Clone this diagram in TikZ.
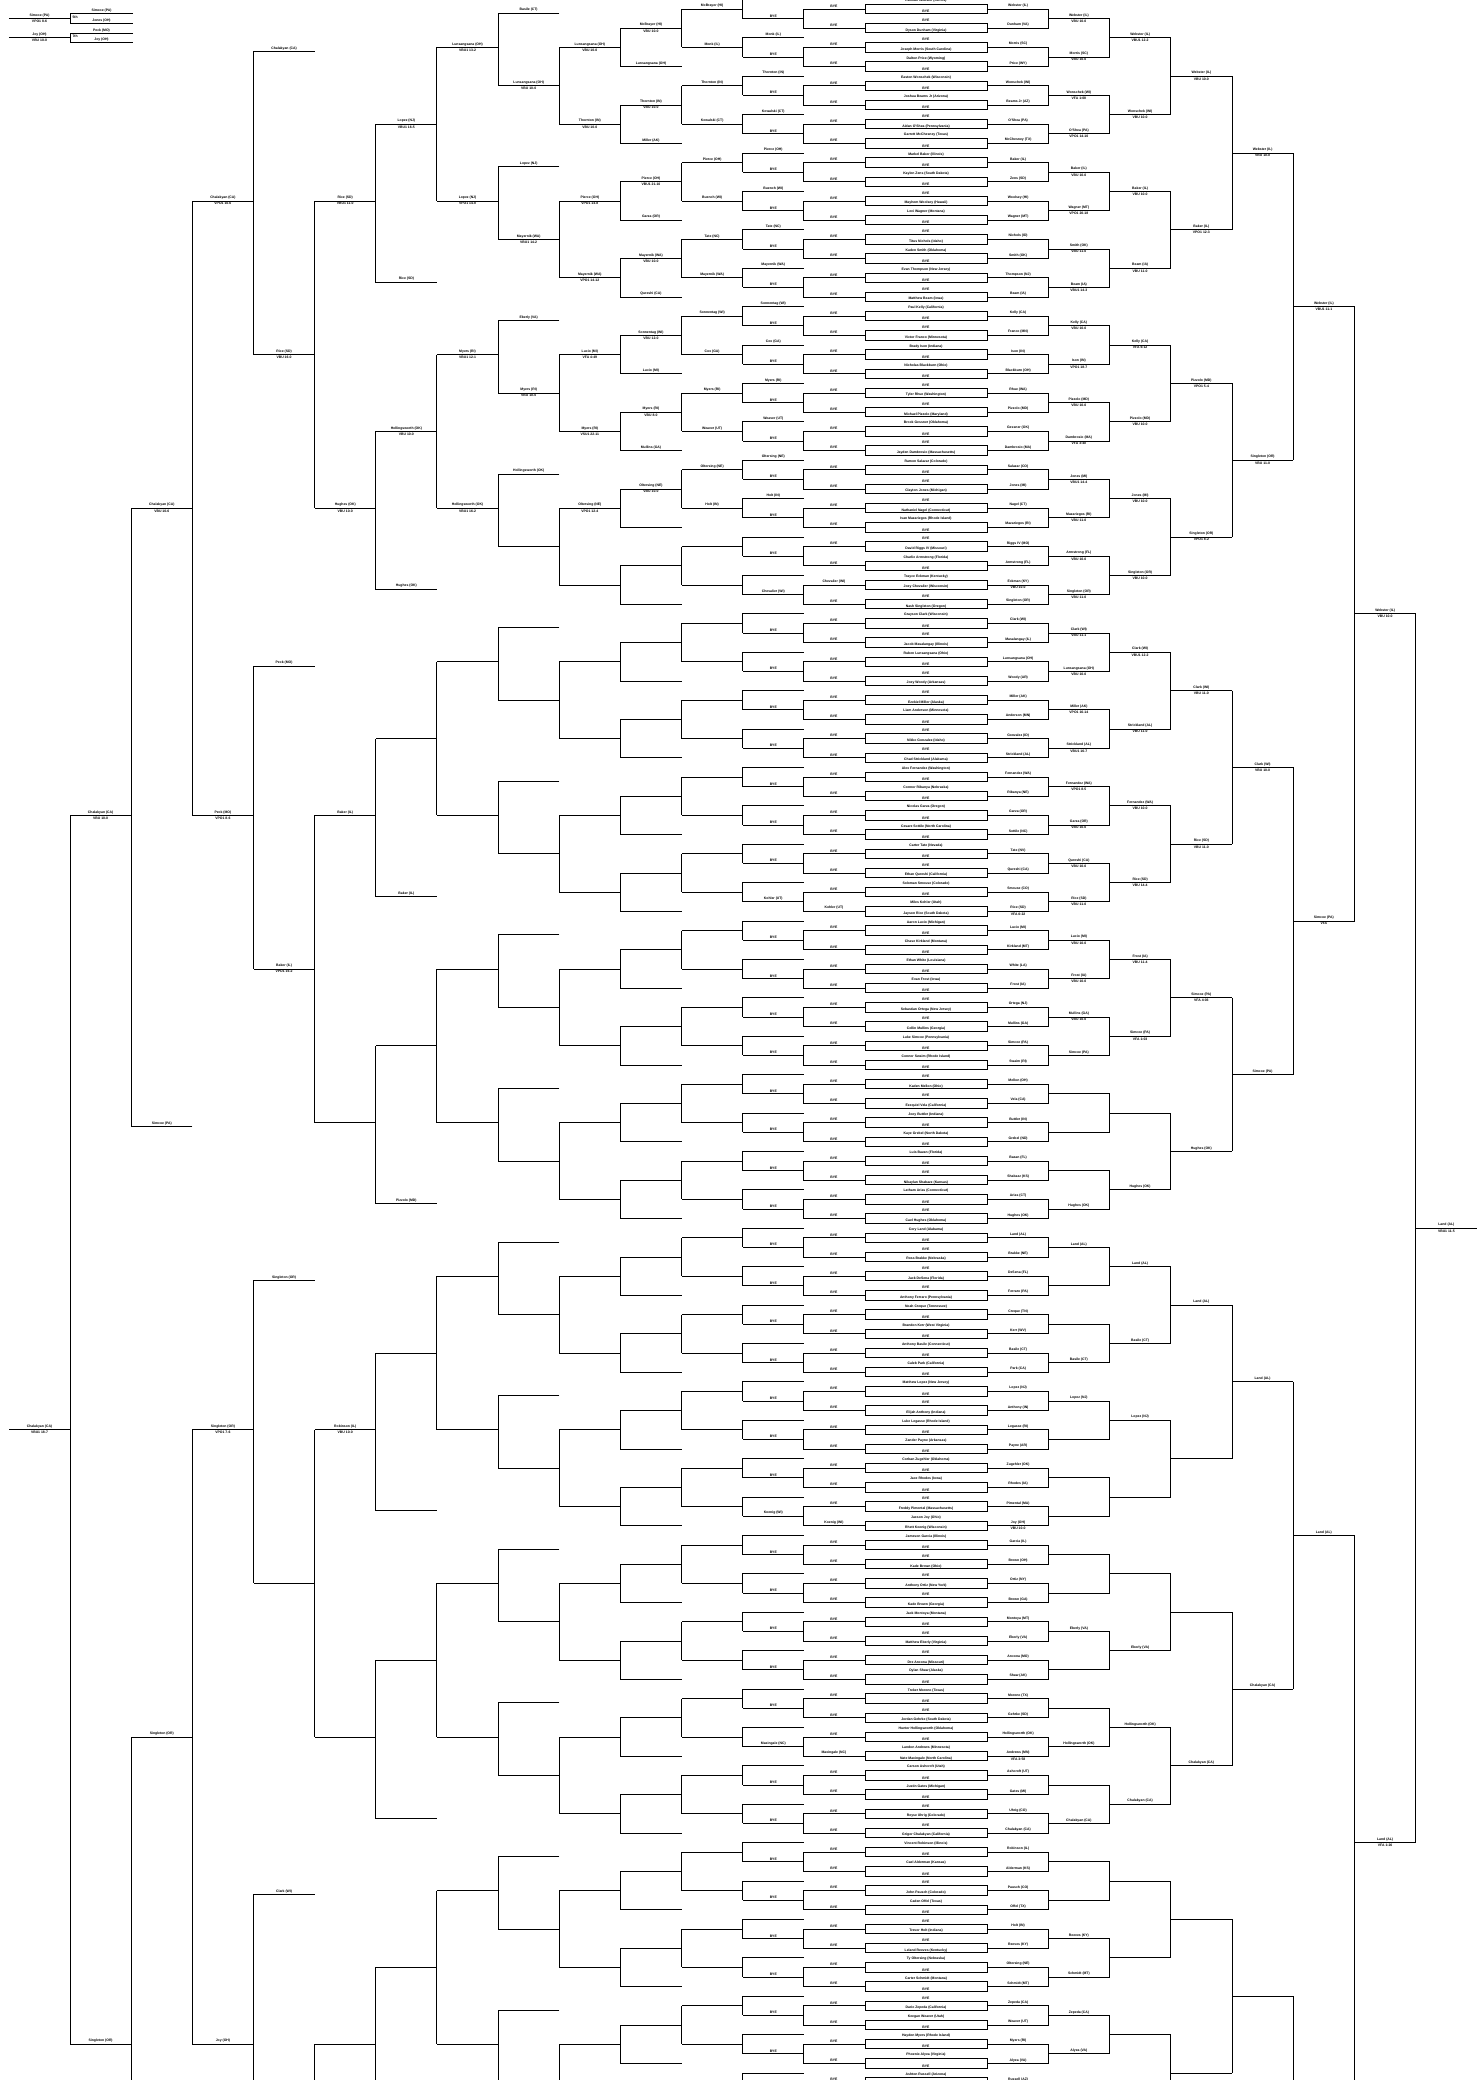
\documentclass[tikz,border=0pt]{standalone}
\usepackage{fontspec}
\setmainfont{Liberation Sans}
\usetikzlibrary{positioning, calc}
% row and column positions (picture pixels)
\newcommand{\rowy}[1]{9+19.2*(#1)}
\newcommand{\stuby}[1]{13.2+19.2*(#1)}
\newcommand{\lcol}[1]{8.9+61.15*(#1)}
\newcommand{\rcol}[1]{987+61.25*(#1)}
\tikzset{
  wire/.style={line width=0.55pt},
  nm/.style={font=\fontsize{1.95}{2.3}\selectfont\bfseries, inner sep=0.7pt},
  matchbox/.style={draw, line width=0.55pt, minimum width=2.44cm,
                   minimum height=0.19cm, inner sep=0pt}
}
\begin{document}
\begin{tikzpicture}[x=0.02cm, y=-0.02cm]
\useasboundingbox (0,0) rectangle (1477,2080);

% First round matches
\foreach \k/\ta/\tb/\lt/\rt in {
 0/Kamran Webster (Illinois)/BYE/BYE/Webster (IL),
 1/BYE/Dyson Dunham (Virginia)/BYE/Dunham (VA),
 2/BYE/Joseph Morris (South Carolina)/BYE/Morris (SC),
 3/Dalton Price (Wyoming)/BYE/BYE/Price (WY),
 4/Easton Wonschek (Wisconsin)/BYE/BYE/Wonschek (WI),
 5/Joshua Beams Jr (Arizona)/BYE/BYE/Beams Jr (AZ),
 6/BYE/Aidan O'Shea (Pennsylvania)/BYE/O'Shea (PA),
 7/Garrett McChesney (Texas)/BYE/BYE/McChesney (TX),
 8/Markel Baker (Illinois)/BYE/BYE/Baker (IL),
 9/Kaylen Zens (South Dakota)/BYE/BYE/Zens (SD),
 10/BYE/Mayhem Woolsey (Hawaii)/BYE/Woolsey (HI),
 11/Levi Wagner (Montana)/BYE/BYE/Wagner (MT),
 12/BYE/Titus Nichols (Idaho)/BYE/Nichols (ID),
 13/Kaden Smith (Oklahoma)/BYE/BYE/Smith (OK),
 14/Evan Thompson (New Jersey)/BYE/BYE/Thompson (NJ),
 15/BYE/Matthew Beam (Iowa)/BYE/Beam (IA),
 16/Paul Kelly (California)/BYE/BYE/Kelly (CA),
 17/BYE/Victor Franco (Minnesota)/BYE/Franco (MN),
 18/Brady Ison (Indiana)/BYE/BYE/Ison (IN),
 19/Nicholas Blackburn (Ohio)/BYE/BYE/Blackburn (OH),
 20/BYE/Tyler Rhue (Washington)/BYE/Rhue (WA),
 21/BYE/Michael Pizzolo (Maryland)/BYE/Pizzolo (MD),
 22/Brock Gessner (Oklahoma)/BYE/BYE/Gessner (OK),
 23/BYE/Jayden Dambrosio (Massachusetts)/BYE/Dambrosio (MA),
 24/Ramon Salazar (Colorado)/BYE/BYE/Salazar (CO),
 25/BYE/Clayton Jones (Michigan)/BYE/Jones (MI),
 26/BYE/Nathaniel Nagel (Connecticut)/BYE/Nagel (CT),
 27/Ivan Mazariegos (Rhode Island)/BYE/BYE/Mazariegos (RI),
 28/BYE/David Riggs IV (Missouri)/BYE/Riggs IV (MO),
 29/Charlie Armstrong (Florida)/BYE/BYE/Armstrong (FL),
 30/Trayce Eckman (Kentucky)/Joey Chevalier (Wisconsin)/Chevalier (WI)/Eckman (KY),
 31/BYE/Nash Singleton (Oregon)/BYE/Singleton (OR),
 32/Grayson Clark (Wisconsin)/BYE/BYE/Clark (WI),
 33/BYE/Jacob Masalangay (Illinois)/BYE/Masalangay (IL),
 34/Ruben Lunsangsana (Ohio)/BYE/BYE/Lunsangsana (OH),
 35/BYE/Joey Woody (Arkansas)/BYE/Woody (AR),
 36/BYE/Ezekiel Miller (Alaska)/BYE/Miller (AK),
 37/Liam Anderson (Minnesota)/BYE/BYE/Anderson (MN),
 38/BYE/Nikko Gonzalez (Idaho)/BYE/Gonzalez (ID),
 39/BYE/Chad Strickland (Alabama)/BYE/Strickland (AL),
 40/Alex Fernandez (Washington)/BYE/BYE/Fernandez (WA),
 41/Connor Ribanya (Nebraska)/BYE/BYE/Ribanya (NE),
 42/Nicolas Garza (Oregon)/BYE/BYE/Garza (OR),
 43/Cesare Sottile (North Carolina)/BYE/BYE/Sottile (NC),
 44/Carter Tate (Nevada)/BYE/BYE/Tate (NV),
 45/BYE/Ethan Qureshi (California)/BYE/Qureshi (CA),
 46/Soloman Smouse (Colorado)/BYE/BYE/Smouse (CO),
 47/Miles Kohler (Utah)/Jayson Rice (South Dakota)/Kohler (UT)/Rice (SD),
 48/Aaron Lucio (Michigan)/BYE/BYE/Lucio (MI),
 49/Chase Kirkland (Montana)/BYE/BYE/Kirkland (MT),
 50/Ethan White (Louisiana)/BYE/BYE/White (LA),
 51/Evan Frost (Iowa)/BYE/BYE/Frost (IA),
 52/BYE/Sebastian Ortega (New Jersey)/BYE/Ortega (NJ),
 53/BYE/Collin Mullins (Georgia)/BYE/Mullins (GA),
 54/Luke Simcoe (Pennsylvania)/BYE/BYE/Simcoe (PA),
 55/Connor Swaim (Rhode Island)/BYE/BYE/Swaim (RI),
 56/BYE/Kaden Mellon (Ohio)/BYE/Mellon (OH),
 57/BYE/Ezequiel Vela (California)/BYE/Vela (CA),
 58/Joey Buttler (Indiana)/BYE/BYE/Buttler (IN),
 59/Kaye Grebel (North Dakota)/BYE/BYE/Grebel (ND),
 60/Luis Bazan (Florida)/BYE/BYE/Bazan (FL),
 61/BYE/Nikaylan Shabazz (Kansas)/BYE/Shabazz (KS),
 62/Latham Arias (Connecticut)/BYE/BYE/Arias (CT),
 63/BYE/Cael Hughes (Oklahoma)/BYE/Hughes (OK),
 64/Cory Land (Alabama)/BYE/BYE/Land (AL),
 65/BYE/Ross Brakke (Nebraska)/BYE/Brakke (NE),
 66/BYE/Jack DeSena (Florida)/BYE/DeSena (FL),
 67/BYE/Anthony Ferraro (Pennsylvania)/BYE/Ferraro (PA),
 68/Noah Creque (Tennessee)/BYE/BYE/Creque (TN),
 69/Brandon Kerr (West Virginia)/BYE/BYE/Kerr (WV),
 70/Anthony Basile (Connecticut)/BYE/BYE/Basile (CT),
 71/Caleb Park (California)/BYE/BYE/Park (CA),
 72/Matthew Lopez (New Jersey)/BYE/BYE/Lopez (NJ),
 73/BYE/Elijah Anthony (Indiana)/BYE/Anthony (IN),
 74/Luke Legasse (Rhode Island)/BYE/BYE/Legasse (RI),
 75/Zander Payne (Arkansas)/BYE/BYE/Payne (AR),
 76/Corban Zugehler (Oklahoma)/BYE/BYE/Zugehler (OK),
 77/Jace Rhodes (Iowa)/BYE/BYE/Rhodes (IA),
 78/BYE/Freddy Pimental (Massachusetts)/BYE/Pimental (MA),
 79/Jaxson Joy (Ohio)/Rhett Koenig (Wisconsin)/Koenig (WI)/Joy (OH),
 80/Jameson Garcia (Illinois)/BYE/BYE/Garcia (IL),
 81/BYE/Kade Brown (Ohio)/BYE/Brown (OH),
 82/BYE/Anthony Ortiz (New York)/BYE/Ortiz (NY),
 83/BYE/Kade Brown (Georgia)/BYE/Brown (GA),
 84/Jack Montoya (Montana)/BYE/BYE/Montoya (MT),
 85/BYE/Matthew Eberly (Virginia)/BYE/Eberly (VA),
 86/BYE/Dre Ancona (Missouri)/BYE/Ancona (MO),
 87/Dylan Shaw (Alaska)/BYE/BYE/Shaw (AK),
 88/Treker Moreno (Texas)/BYE/BYE/Moreno (TX),
 89/BYE/Jordan Gehrke (South Dakota)/BYE/Gehrke (SD),
 90/Hunter Hollingsworth (Oklahoma)/BYE/BYE/Hollingsworth (OK),
 91/Landon Andrews (Minnesota)/Nate Maxingale (North Carolina)/Maxingale (NC)/Andrews (MN),
 92/Carson Ashcroft (Utah)/BYE/BYE/Ashcroft (UT),
 93/Justin Gates (Michigan)/BYE/BYE/Gates (MI),
 94/BYE/Reyse Uhrig (Colorado)/BYE/Uhrig (CO),
 95/BYE/Grigor Chalakyan (California)/BYE/Chalakyan (CA),
 96/Vincent Robinson (Illinois)/BYE/BYE/Robinson (IL),
 97/Cael Alderman (Kansas)/BYE/BYE/Alderman (KS),
 98/BYE/John Pausch (Colorado)/BYE/Pausch (CO),
 99/Caden Offel (Texas)/BYE/BYE/Offel (TX),
 100/BYE/Trevor Holt (Indiana)/BYE/Holt (IN),
 101/BYE/Leland Reeves (Kentucky)/BYE/Reeves (KY),
 102/Ty Oltersing (Nebraska)/BYE/BYE/Oltersing (NE),
 103/Carter Schmidt (Montana)/BYE/BYE/Schmidt (MT),
 104/BYE/Dario Zepeda (California)/BYE/Zepeda (CA),
 105/Keegan Weaver (Utah)/BYE/BYE/Weaver (UT),
 106/Hayden Myers (Rhode Island)/BYE/BYE/Myers (RI),
 107/Phoenix Alyea (Virginia)/BYE/BYE/Alyea (VA),
 108/Ashton Russell (Arizona)//BYE/Russell (AZ)}{
  \node[matchbox] (m\k) at (926,{\rowy{\k}}) {};
  \draw[wire] (m\k.west) -- ++(-61.2,0) node[nm, midway, above] {\lt};
  \draw[wire] (m\k.east) -- ++(61.25,0) node[nm, midway, above] {\rt};
  \node[nm, above] at (m\k.north) {\ta};
  \node[nm, above] at (m\k.south) {\tb};
}
\foreach \k/\s in {30/VBU 10-0, 47/VFA 0:22, 79/VBU 10-0, 91/VFA 3:58}
  \node[nm, below] at ($(m\k.east)+(30.6,0)$) {\s};

% Consolation side (left)
\foreach \j in {0,...,54}{
  \draw[wire] ({\lcol{13}},{\rowy{2*\j}}) -- ({\lcol{13}},{\rowy{2*\j+1}});
  \draw[wire] ({\lcol{13}},{\rowy{2*\j+0.5}}) -- ({\lcol{12}},{\rowy{2*\j+0.5}});
  \draw[wire] ({\lcol{13}},{\rowy{2*\j-0.5}}) -- ({\lcol{12}},{\rowy{2*\j-0.5}})
              -- ({\lcol{12}},{\rowy{2*\j+0.5}});
  \draw[wire] ({\lcol{12}},{\rowy{2*\j}}) -- ({\lcol{11}},{\rowy{2*\j}});
}
\foreach \i in {0,...,27}{
  \draw[wire] ({\lcol{11}},{\rowy{4*\i}}) -- ({\lcol{11}},{\rowy{4*\i+2}});
  \draw[wire] ({\lcol{11}},{\rowy{4*\i+1}}) -- ({\lcol{10}},{\rowy{4*\i+1}});
  \draw[wire] ({\lcol{11}},{\rowy{4*\i+3}}) -- ({\lcol{10}},{\rowy{4*\i+3}})
              -- ({\lcol{10}},{\rowy{4*\i+1}});
  \draw[wire] ({\lcol{10}},{\rowy{4*\i+2}}) -- ({\lcol{9}},{\rowy{4*\i+2}});
}
\foreach \i in {0,...,13}{
  \draw[wire] ({\lcol{9}},{\rowy{8*\i+2}}) -- ({\lcol{9}},{\rowy{8*\i+6}});
  \draw[wire] ({\lcol{9}},{\rowy{8*\i+4}}) -- ({\lcol{8}},{\rowy{8*\i+4}});
  \draw[wire] ({\lcol{9}},{\stuby{8*\i}}) -- ({\lcol{8}},{\stuby{8*\i}})
              -- ({\lcol{8}},{\rowy{8*\i+4}});
  \draw[wire] ({\lcol{8}},{\rowy{8*\i+2}}) -- ({\lcol{7}},{\rowy{8*\i+2}});
}
\foreach \i in {0,...,6}{
  \draw[wire] ({\lcol{7}},{\rowy{16*\i+2}}) -- ({\lcol{7}},{\rowy{16*\i+10}});
  \draw[wire] ({\lcol{7}},{\rowy{16*\i+6}}) -- ({\lcol{6}},{\rowy{16*\i+6}});
  \draw[wire] ({\lcol{7}},{\stuby{16*\i+14}}) -- ({\lcol{6}},{\stuby{16*\i+14}})
              -- ({\lcol{6}},{\rowy{16*\i+6}});
  \draw[wire] ({\lcol{6}},{\rowy{16*\i+10}}) -- ({\lcol{5}},{\rowy{16*\i+10}});
}
\foreach \i in {0,...,3}{
  \draw[wire] ({\lcol{5}},{\rowy{32*\i+10}}) -- ({\lcol{5}},{\rowy{32*\i+26}});
  \draw[wire] ({\lcol{5}},{\rowy{32*\i+18}}) -- ({\lcol{4}},{\rowy{32*\i+18}});
  \draw[wire] ({\lcol{5}},{\stuby{32*\i+2}}) -- ({\lcol{4}},{\stuby{32*\i+2}})
              -- ({\lcol{4}},{\rowy{32*\i+18}});
  \draw[wire] ({\lcol{4}},{\rowy{32*\i+10}}) -- ({\lcol{3}},{\rowy{32*\i+10}});
}
\foreach \i in {0,1}{
  \draw[wire] ({\lcol{3}},{\rowy{64*\i+10}}) -- ({\lcol{3}},{\rowy{64*\i+42}});
  \draw[wire] ({\lcol{3}},{\rowy{64*\i+26}}) -- ({\lcol{2}},{\rowy{64*\i+26}});
  \draw[wire] ({\lcol{3}},{\stuby{64*\i+58}}) -- ({\lcol{2}},{\stuby{64*\i+58}})
              -- ({\lcol{2}},{\rowy{64*\i+26}});
  \draw[wire] ({\lcol{2}},{\rowy{64*\i+42}}) -- ({\lcol{1}},{\rowy{64*\i+42}});
}
\draw[wire] ({\lcol{1}},{\rowy{42}}) -- ({\lcol{1}},{\rowy{106}});
\draw[wire] ({\lcol{1}},{\rowy{74}}) -- ({\lcol{0}},{\rowy{74}});

% Consolation byes
\foreach \j in {0,...,14,16,17,...,22,24,25,...,38,40,41,...,44,46,47,...,53}
  \node[nm, above] at ({\lcol{12.5}},{\rowy{2*\j+0.5}}) {BYE};

% Consolation names (results and drop-ins)
\foreach \c/\k/\t in {
 12/1.5/Monk (IL), 12/3.5/Thornton (IN), 12/5.5/Kowalski (CT),
 12/7.5/Pierce (OH), 12/9.5/Buench (WI), 12/11.5/Tate (NC), 12/13.5/Mayernik (WA),
 12/15.5/Sonnentag (WI), 12/17.5/Cox (GA), 12/19.5/Myers (RI), 12/21.5/Weaver (UT),
 12/23.5/Oltersing (NE), 12/25.5/Holt (IN),
 12/30.5/Chevalier (WI), 12/46.5/Kohler (UT), 12/78.5/Koenig (WI), 12/90.5/Maxingale (NC),
 11/0/McBrayer (HI), 11/2/Monk (IL), 11/4/Thornton (IN), 11/6/Kowalski (CT),
 11/8/Pierce (OH), 11/10/Buench (WI), 11/12/Tate (NC), 11/14/Mayernik (WA),
 11/16/Sonnentag (WI), 11/18/Cox (GA), 11/20/Myers (RI), 11/22/Weaver (UT),
 11/24/Oltersing (NE), 11/26/Holt (IN),
 10/1/McBrayer (HI), 10/3/Lunsangsana (OH), 10/5/Thornton (IN), 10/7/Miller (AK),
 10/9/Pierce (OH), 10/11/Garza (OR), 10/13/Mayernik (WA), 10/15/Qureshi (CA),
 10/17/Sonnentag (WI), 10/19/Lucio (MI), 10/21/Myers (RI), 10/23/Mullins (GA),
 10/25/Oltersing (NE),
 9/2/Lunsangsana (OH), 9/6/Thornton (IN), 9/10/Pierce (OH), 9/14/Mayernik (WA),
 9/18/Lucio (MI), 9/22/Myers (RI), 9/26/Oltersing (NE),
 8/4/Lunsangsana (OH), 8/12/Mayernik (WA), 8/20/Myers (RI),
 7/2/Lunsangsana (OH), 7/10/Lopez (NJ), 7/18/Myers (RI), 7/26/Hollingsworth (OK),
 6/6/Lopez (NJ), 6/22/Hollingsworth (OK),
 5/10/Rice (SD), 5/26/Hughes (OK), 5/42/Baker (IL), 5/74/Robinson (IL),
 4/18/Rice (SD), 4/50/Baker (IL),
 3/10/Chalakyan (CA), 3/42/Peck (MO), 3/74/Singleton (OR), 3/106/Joy (OH),
 2/26/Chalakyan (CA), 2/90/Singleton (OR),
 1/42/Chalakyan (CA), 1/106/Singleton (OR), 0/74/Chalakyan (CA)}
  \node[nm, above] at ({\lcol{\c+0.5}},{\rowy{\k}}) {\t};
\foreach \c/\k/\t in {
 8/0/Basile (CT), 8/8/Lopez (NJ), 8/16/Eberly (VA), 8/24/Hollingsworth (OK),
 6/14/Rice (SD), 6/30/Hughes (OK), 6/46/Baker (IL), 6/62/Pizzolo (MD),
 4/2/Chalakyan (CA), 4/34/Peck (MO), 4/66/Singleton (OR), 4/98/Clark (WI),
 2/58/Simcoe (PA)}
  \node[nm, above] at ({\lcol{\c+0.5}},{\stuby{\k}}) {\t};
\foreach \c/\k/\s in {
 10/1/VBU 10-0, 10/5/VBU 10-0, 10/9/VBU1 21-10, 10/13/VBU 10-0, 10/17/VBU 12-0,
 10/21/VBU 8-0, 10/25/VBU 10-0,
 9/2/VBU 10-0, 9/6/VBU 10-0, 9/10/VPO1 14-8, 9/14/VPO1 14-12, 9/18/VFA 4:49,
 9/22/VSU1 22-11, 9/26/VPO1 12-4,
 8/4/VBU 10-0, 8/12/VBU1 14-2, 8/20/VBU 10-0,
 7/2/VBU1 13-2, 7/10/VPO1 14-8, 7/18/VBU1 12-1, 7/26/VBU1 16-2,
 6/6/VBU1 16-5, 6/22/VBU 10-0, 5/10/VBU1 11-0, 5/26/VBU 10-0, 5/74/VBU 10-0,
 4/18/VBU 16-0, 4/50/VPO1 16-2, 3/10/VPO1 10-6, 3/42/VPO1 8-6, 3/74/VPO1 7-6,
 2/26/VBU 10-6, 1/42/VBU 10-0, 0/74/VBU1 18-7}
  \node[nm, below] at ({\lcol{\c+0.5}},{\rowy{\k}}) {\s};

% Championship side (right)
\foreach \j in {0,...,54}{
  \draw[wire] ({\rcol{1}},{\rowy{2*\j}}) -- ({\rcol{1}},{\rowy{2*\j+1}});
  \draw[wire] ({\rcol{1}},{\rowy{2*\j+0.5}}) -- ({\rcol{2}},{\rowy{2*\j+0.5}});
}
\foreach \i in {0,...,27}{
  \draw[wire] ({\rcol{2}},{\rowy{4*\i+0.5}}) -- ({\rcol{2}},{\rowy{4*\i+2.5}});
  \draw[wire] ({\rcol{2}},{\rowy{4*\i+1.5}}) -- ({\rcol{3}},{\rowy{4*\i+1.5}});
}
\foreach \i in {0,...,13}{
  \draw[wire] ({\rcol{3}},{\rowy{8*\i+1.5}}) -- ({\rcol{3}},{\rowy{8*\i+5.5}});
  \draw[wire] ({\rcol{3}},{\rowy{8*\i+3.5}}) -- ({\rcol{4}},{\rowy{8*\i+3.5}});
}
\foreach \i in {0,...,6}{
  \draw[wire] ({\rcol{4}},{\rowy{16*\i+3.5}}) -- ({\rcol{4}},{\rowy{16*\i+11.5}});
  \draw[wire] ({\rcol{4}},{\rowy{16*\i+7.5}}) -- ({\rcol{5}},{\rowy{16*\i+7.5}});
}
\foreach \i in {0,...,3}{
  \draw[wire] ({\rcol{5}},{\rowy{32*\i+7.5}}) -- ({\rcol{5}},{\rowy{32*\i+23.5}});
  \draw[wire] ({\rcol{5}},{\rowy{32*\i+15.5}}) -- ({\rcol{6}},{\rowy{32*\i+15.5}});
}
\foreach \i in {0,1}{
  \draw[wire] ({\rcol{6}},{\rowy{64*\i+15.5}}) -- ({\rcol{6}},{\rowy{64*\i+47.5}});
  \draw[wire] ({\rcol{6}},{\rowy{64*\i+31.5}}) -- ({\rcol{7}},{\rowy{64*\i+31.5}});
}
\draw[wire] ({\rcol{7}},{\rowy{31.5}}) -- ({\rcol{7}},{\rowy{95.5}});
\draw[wire] ({\rcol{7}},{\rowy{63.5}}) -- ({\rcol{8}},{\rowy{63.5}});

% Championship results
\foreach \c/\k/\t in {
 1/0.5/Webster (IL), 1/2.5/Morris (SC), 1/4.5/Wonschek (WI), 1/6.5/O'Shea (PA),
 1/8.5/Baker (IL), 1/10.5/Wagner (MT), 1/12.5/Smith (OK), 1/14.5/Beam (IA),
 1/16.5/Kelly (CA), 1/18.5/Ison (IN), 1/20.5/Pizzolo (MD), 1/22.5/Dambrosio (MA),
 1/24.5/Jones (MI), 1/26.5/Mazariegos (RI), 1/28.5/Armstrong (FL), 1/30.5/Singleton (OR),
 1/32.5/Clark (WI), 1/34.5/Lunsangsana (OH), 1/36.5/Miller (AK), 1/38.5/Strickland (AL),
 1/40.5/Fernandez (WA), 1/42.5/Garza (OR), 1/44.5/Qureshi (CA), 1/46.5/Rice (SD),
 1/48.5/Lucio (MI), 1/50.5/Frost (IA), 1/52.5/Mullins (GA), 1/54.5/Simcoe (PA),
 1/62.5/Hughes (OK), 1/64.5/Land (AL), 1/70.5/Basile (CT), 1/72.5/Lopez (NJ),
 1/84.5/Eberly (VA), 1/90.5/Hollingsworth (OK), 1/94.5/Chalakyan (CA),
 1/100.5/Reeves (KY), 1/102.5/Schmidt (MT), 1/104.5/Zepeda (CA), 1/106.5/Alyea (VA),
 2/1.5/Webster (IL), 2/5.5/Wonschek (WI), 2/9.5/Baker (IL), 2/13.5/Beam (IA),
 2/17.5/Kelly (CA), 2/21.5/Pizzolo (MD), 2/25.5/Jones (MI), 2/29.5/Singleton (OR),
 2/33.5/Clark (WI), 2/37.5/Strickland (AL), 2/41.5/Fernandez (WA), 2/45.5/Rice (SD),
 2/49.5/Frost (IA), 2/53.5/Simcoe (PA), 2/61.5/Hughes (OK), 2/65.5/Land (AL),
 2/69.5/Basile (CT), 2/73.5/Lopez (NJ), 2/85.5/Eberly (VA), 2/89.5/Hollingsworth (OK),
 2/93.5/Chalakyan (CA),
 3/3.5/Webster (IL), 3/11.5/Baker (IL), 3/19.5/Pizzolo (MD), 3/27.5/Singleton (OR),
 3/35.5/Clark (WI), 3/43.5/Rice (SD), 3/51.5/Simcoe (PA), 3/59.5/Hughes (OK),
 3/67.5/Land (AL), 3/91.5/Chalakyan (CA),
 4/7.5/Webster (IL), 4/23.5/Singleton (OR), 4/39.5/Clark (WI), 4/55.5/Simcoe (PA),
 4/71.5/Land (AL), 4/87.5/Chalakyan (CA),
 5/15.5/Webster (IL), 5/47.5/Simcoe (PA), 5/79.5/Land (AL),
 6/31.5/Webster (IL), 6/95.5/Land (AL), 7/63.5/Land (AL)}
  \node[nm, above] at ({\rcol{\c+0.5}},{\rowy{\k}}) {\t};
\foreach \c/\k/\s in {
 1/0.5/VBU 10-0, 1/2.5/VBU 10-0, 1/4.5/VFA 1:08, 1/6.5/VPO1 14-10,
 1/8.5/VBU 10-0, 1/10.5/VPO1 20-18, 1/12.5/VBU 11-0, 1/14.5/VBU1 14-3,
 1/16.5/VBU 10-0, 1/18.5/VPO1 18-7, 1/20.5/VBU 10-0, 1/22.5/VFA 3:40,
 1/24.5/VBU1 14-4, 1/26.5/VBU 11-0, 1/28.5/VBU 10-0, 1/30.5/VBU 11-0,
 1/32.5/VBU 11-1, 1/34.5/VBU 10-0, 1/36.5/VPO1 16-14, 1/38.5/VBU1 16-7,
 1/40.5/VPO1 8-5, 1/42.5/VBU 10-0, 1/44.5/VBU 10-0, 1/46.5/VBU 11-0,
 1/48.5/VBU 10-0, 1/50.5/VBU 10-0, 1/52.5/VBU 10-0,
 2/1.5/VBU1 12-2, 2/5.5/VBU 10-0, 2/9.5/VBU 10-0, 2/13.5/VBU 11-0,
 2/17.5/VFA 6:12, 2/21.5/VBU 10-0, 2/25.5/VBU 10-0, 2/29.5/VBU 10-0,
 2/33.5/VBU1 12-2, 2/37.5/VBU 11-0, 2/41.5/VBU 10-0, 2/45.5/VBU 14-4,
 2/49.5/VBU 11-4, 2/53.5/VFA 1:03,
 3/3.5/VBU 10-0, 3/11.5/VPO1 12-3, 3/19.5/VPO1 5-4, 3/27.5/VPO1 8-2,
 3/35.5/VBU 11-0, 3/43.5/VBU 11-0, 3/51.5/VFA 4:03,
 4/7.5/VBU 10-0, 4/23.5/VBU 11-0, 4/39.5/VBU 10-0,
 5/15.5/VBU1 11-1, 5/47.5/VFA, 6/31.5/VBU 10-0, 6/95.5/VFA 1:26, 7/63.5/VBU1 11-5}
  \node[nm, below] at ({\rcol{\c+0.5}},{\rowy{\k}}) {\s};

% Placement matches
\draw[wire] (8.9,18.7) -- (70,18.7);
\draw[wire] (133,13.3) -- (70,13.3) -- (70,23.3) -- (133,23.3);
\draw[wire] (8.9,37.3) -- (70,37.3);
\draw[wire] (133,33.3) -- (70,33.3) -- (70,42.7) -- (133,42.7);
\node[nm, above] at (39.5,18.7) {Simcoe (PA)};
\node[nm, below] at (39.5,18.7) {VPO1 8-6};
\node[nm, above] at (101.5,13.3) {Simcoe (PA)};
\node[nm, above] at (101.5,23.3) {Jones (OH)};
\node[nm, anchor=west] at (71,17.5) {5th};
\node[nm, above] at (39.5,37.3) {Joy (OH)};
\node[nm, below] at (39.5,37.3) {VBU 10-0};
\node[nm, above] at (101.5,33.3) {Peck (MO)};
\node[nm, above] at (101.5,42.7) {Joy (OH)};
\node[nm, anchor=west] at (71,36.5) {7th};
\end{tikzpicture}
\end{document}
